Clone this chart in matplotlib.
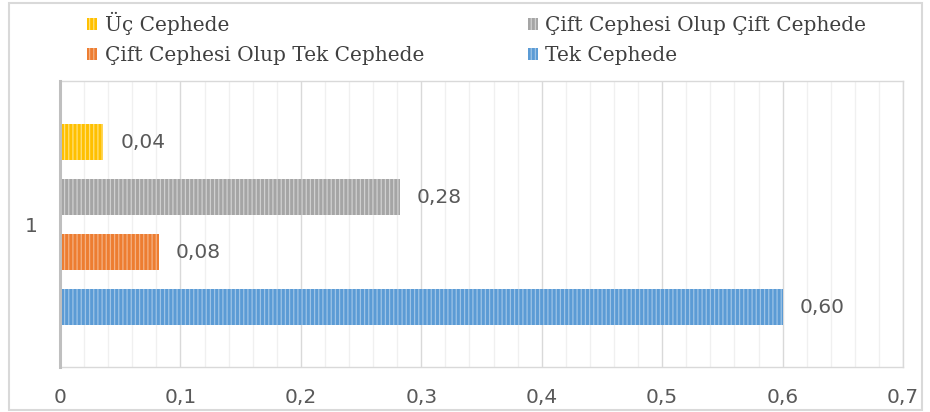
import numpy as np
import matplotlib
matplotlib.use('Agg')
import matplotlib.pyplot as plt
from matplotlib.patches import Rectangle
from matplotlib.ticker import MultipleLocator, FuncFormatter

# series, bottom to top as drawn
series = ['Tek Cephede', 'Çift Cephesi Olup Tek Cephede',
          'Çift Cephesi Olup Çift Cephede', 'Üç Cephede']
values = [0.600, 0.082, 0.282, 0.036]
labels = ['0,60', '0,08', '0,28', '0,04']
colors = ['#5B9BD5', '#ED7D31', '#A5A5A5', '#FFC000']
stripes = ['#9DC3E6', '#F4B183', '#D0D0D0', '#FFE07A']
category = '1'

plt.rcParams['hatch.linewidth'] = 0.9

fig = plt.figure(figsize=(9.3, 4.12), dpi=100)
ax = fig.add_axes([0.0645, 0.1092, 0.9065, 0.6942])

ypos = np.arange(len(series))
handles = {}
for i, (name, v, c, s) in enumerate(zip(series, values, colors, stripes)):
    b = ax.barh(ypos[i], v, height=0.65, color=c, edgecolor=s, linewidth=0,
                hatch='||||', label=name, zorder=3)
    handles[name] = b
    ax.text(v + 0.014, ypos[i], labels[i], va='center', ha='left',
            fontsize=14.5, color='#595959', family='DejaVu Sans')

ax.set_xlim(0, 0.7)
ax.set_ylim(-1.09, 4.11)
ax.xaxis.set_major_locator(MultipleLocator(0.1))
ax.xaxis.set_minor_locator(MultipleLocator(0.02))
ax.xaxis.set_major_formatter(FuncFormatter(lambda x, p: ('%g' % round(x, 2)).replace('.', ',')))
ax.grid(axis='x', which='major', color='#D9D9D9', lw=1, zorder=0)
ax.grid(axis='x', which='minor', color='#F0F0F0', lw=1, zorder=0)
ax.set_yticks([1.5])
ax.set_yticklabels([category])
ax.tick_params(axis='both', which='both', length=0, labelsize=14.5, labelcolor='#595959')
ax.tick_params(axis='x', pad=15)
ax.tick_params(axis='y', pad=16)

for side in ['top', 'right', 'bottom']:
    ax.spines[side].set_color('#D9D9D9')
    ax.spines[side].set_linewidth(1)
ax.spines['left'].set_color('#BFBFBF')
ax.spines['left'].set_linewidth(2.2)
ax.spines['left'].set_zorder(4)

order = ['Üç Cephede', 'Çift Cephesi Olup Tek Cephede',
         'Çift Cephesi Olup Çift Cephede', 'Tek Cephede']
leg = fig.legend([handles[n] for n in order], order, ncol=2,
                 loc='upper left', bbox_to_anchor=(0.0745, 1.015),
                 frameon=False, handlelength=0.5, handleheight=0.5,
                 handletextpad=0.35, columnspacing=5.15, labelspacing=0.55,
                 prop={'family': 'DejaVu Serif', 'size': 14.5})
for t in leg.get_texts():
    t.set_color('#404040')

fig.patches.append(Rectangle((9 / 930, 1 - 410 / 412), 913 / 930, 407 / 412,
                             transform=fig.transFigure, fill=False,
                             edgecolor='#D9D9D9', lw=1.5))

fig.savefig('out.png', dpi=100)
